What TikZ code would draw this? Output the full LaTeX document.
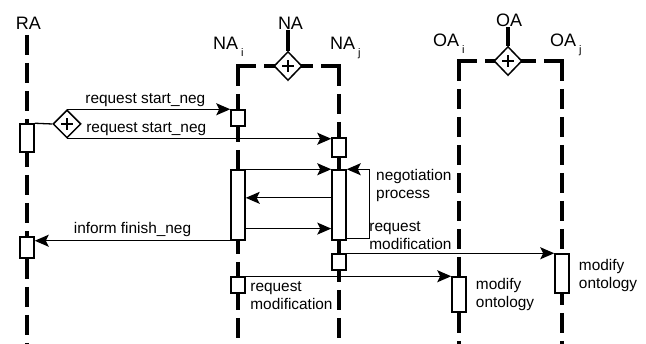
\documentclass[tikz,border=0pt]{standalone}
\usepackage{fontspec}
\setmainfont{Liberation Sans}
\usepackage{tikz}
\usetikzlibrary{arrows.meta,positioning,shapes.geometric,calc}
\newcommand{\lanename}[2]{#1\kern3pt\raisebox{-7pt}{\fontsize{11}{12}\selectfont #2}}

\begin{document}
\begin{tikzpicture}[
  x=1pt, y=-1pt,
  life/.style={line width=3.5pt, dash pattern=on 20pt off 8pt},
  topbar/.style={line width=3.5pt},
  actbox/.style={draw, line width=1.5pt, fill=white, minimum width=14pt, inner sep=0pt},
  gate/.style={diamond, draw, line width=1.5pt, fill=white, minimum width=28pt, minimum height=29pt, inner sep=0pt,
    path picture={\draw[line width=1.5pt]
      ([xshift=-6pt]path picture bounding box.center) -- ([xshift=6pt]path picture bounding box.center)
      ([yshift=-6pt]path picture bounding box.center) -- ([yshift=6pt]path picture bounding box.center);}},
  msg/.style={-{Stealth[length=14pt,width=12pt,inset=3pt]}, line width=1.3pt},
  lbl/.style={font=\fontsize{15.4}{18}\selectfont, inner sep=0pt, align=left},
  who/.style={font=\fontsize{18}{20}\selectfont, inner sep=0pt}
]
  \useasboundingbox (0,0) rectangle (646,344);

  % lane names
  \node[who, anchor=base] (ra) at (28.5,30) {RA};
  \node[who, anchor=base] (na) at (290.5,30) {NA};
  \node[who, anchor=base] (oa) at (509,27) {OA};
  \node[who, anchor=base west] (nai) at (213,50) {\lanename{NA}{i}};
  \node[who, anchor=base west] (naj) at (330,50) {\lanename{NA}{j}};
  \node[who, anchor=base west] (oai) at (433,47) {\lanename{OA}{i}};
  \node[who, anchor=base west] (oaj) at (550,47) {\lanename{OA}{j}};

  \coordinate (raTop) at (27,35);
  \coordinate (naiTop) at (238,66);
  \coordinate (najTop) at (339,66);
  \coordinate (oaiTop) at (459,61);
  \coordinate (oajTop) at (562,61);

  % lifelines
  \draw[life] (raTop) -- (raTop |- 0,344);
  \draw[life] (naiTop) -- (naiTop |- 0,344);
  \draw[life] (najTop) -- (najTop |- 0,344);
  \draw[life] (oaiTop) -- (oaiTop |- 0,344);
  \draw[life] (oajTop) -- (oajTop |- 0,344);
  \draw[life] ([xshift=-1.75pt]naiTop) -- (288,66);
  \draw[life] ([xshift=1.75pt]najTop) -- (288,66);
  \draw[life] ([xshift=-1.75pt]oaiTop) -- (508,61);
  \draw[life] ([xshift=1.75pt]oajTop) -- (508,61);

  % gateways
  \node[gate] (nag) at (288,66) {};
  \node[gate] (oag) at (508,61) {};
  \node[gate, minimum height=28pt] (rag) at (67,124) {};
  \draw[topbar] (na.south -| nag.north) -- (nag.north);
  \draw[topbar] (oa.south -| oag.north) -- (oag.north);

  % activations
  \node[actbox, minimum height=28pt] (ra1) at (27,138) {};
  \node[actbox, minimum height=21pt] (ra2) at (27,247.5) {};
  \node[actbox, minimum height=16pt] (nai1) at (238,118) {};
  \node[actbox, minimum height=70pt] (nai2) at (238,205) {};
  \node[actbox, minimum height=16pt] (nai3) at (238,285) {};
  \node[actbox, minimum height=19pt] (naj1) at (339,147.5) {};
  \node[actbox, minimum height=70pt] (naj2) at (339,205) {};
  \node[actbox, minimum height=16pt] (naj3) at (339,262) {};
  \node[actbox, minimum height=35pt] (oai1) at (459,294.5) {};
  \node[actbox, minimum height=39pt] (oaj1) at (562,273.5) {};

  % messages
  \draw[line width=1.3pt] (ra1.north east) -- (rag.west);
  \draw[msg] (rag.north) -- (rag.north -| nai1.west)
    node[lbl, above=2pt, pos=0.48] {request start\_neg};
  \draw[msg] (rag.south) -- (rag.south -| naj1.west)
    node[lbl, above=2pt, pos=0.3] {request start\_neg};
  \draw[msg] (nai2.north east) -- (naj2.north west);
  \draw[msg] ($(naj2.north west)!0.4!(naj2.south west)$) -- ($(nai2.north east)!0.4!(nai2.south east)$);
  \draw[msg] ($(nai2.north east)!0.83!(nai2.south east)$) -- ($(naj2.north west)!0.83!(naj2.south west)$);
  \draw[msg] ([yshift=2pt]naj2.south east) -- ++(23,0) |- (naj2.north east);
  \node[lbl, anchor=west] at (376,186) {negotiation\\process};
  \draw[msg] (nai2.south west) -- (nai2.south west -| ra2.east)
    node[lbl, above=3pt, midway] {inform finish\_neg};
  \draw[msg] (naj3.north east) -- (oaj1.north west)
    node[lbl, pos=0, anchor=south west, xshift=22pt, yshift=3pt] {request\\modification};
  \draw[msg] (nai3.north east) -- (oai1.north west)
    node[lbl, pos=0, anchor=north west, xshift=4pt, yshift=-5pt] {request\\modification};
  \node[lbl, right=9pt of oai1.east] {modify\\ontology};
  \node[lbl, right=9pt of oaj1.east, yshift=-2pt] {modify\\ontology};
\end{tikzpicture}
\end{document}
